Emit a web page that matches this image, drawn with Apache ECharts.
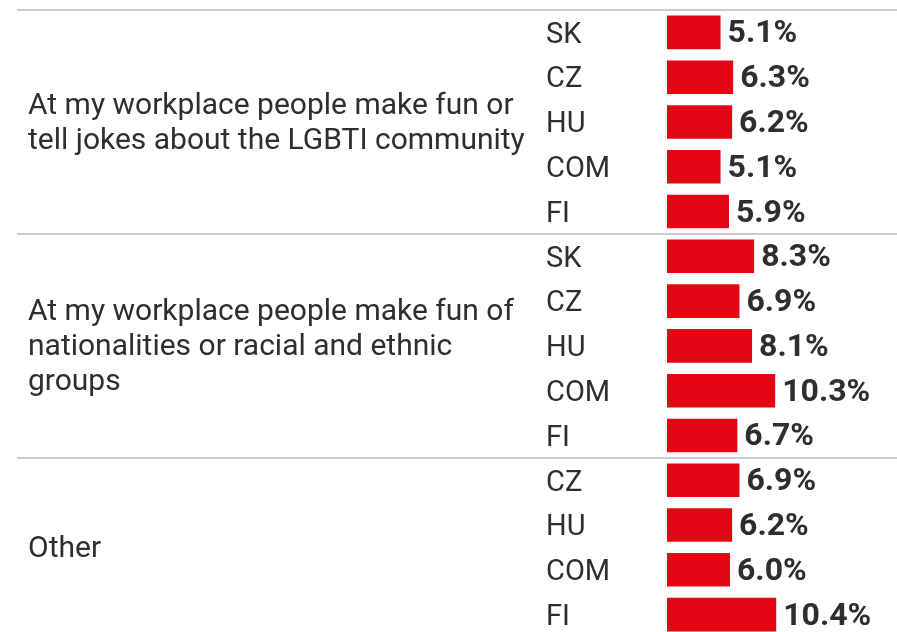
<!DOCTYPE html>
<html>
<head>
<meta charset="utf-8">
<script src="https://cdn.jsdelivr.net/npm/echarts@6/dist/echarts.min.js"></script>
<style>html,body{margin:0;padding:0;background:#fff;overflow:hidden}#c{width:897px;height:637px}</style>
</head>
<body>
<div id="c"></div>
<script>
const groups = [
  'At my workplace people make fun or\ntell jokes about the LGBTI community',
  'At my workplace people make fun of\nnationalities or racial and ethnic\ngroups',
  'Other'
];
const countries = [
  ['SK', 'CZ', 'HU', 'COM', 'FI'],
  ['SK', 'CZ', 'HU', 'COM', 'FI'],
  ['CZ', 'HU', 'COM', 'FI']
];
const values = [
  [5.1, 6.3, 6.2, 5.1, 5.9],
  [8.3, 6.9, 8.1, 10.3, 6.7],
  [6.9, 6.2, 6.0, 10.4]
];

const cats = [];
const vals = [];
countries.forEach((g, gi) => g.forEach((c, ci) => { cats.push(gi + '|' + c); vals.push(values[gi][ci]); }));
const nRows = cats.length;
const groupData = [];
let start = 0;
countries.forEach((g, gi) => { groupData.push({ value: [0, start + g.length / 2], name: groups[gi] }); start += g.length; });

const FONT = 'Roboto, "Noto Sans", sans-serif';
const TEXT = '#2e2e2e';
const chart = echarts.init(document.getElementById('c'), null, { renderer: 'canvas' });
chart.setOption({
  animation: false,
  backgroundColor: '#fff',
  grid: [
    { left: 667, right: 0, top: 10, bottom: 0, containLabel: false },
    { left: 17, right: 0, top: 10, bottom: 0, containLabel: false }
  ],
  xAxis: [
    { gridIndex: 0, type: 'value', min: 0, max: 21.9, show: false },
    { gridIndex: 1, type: 'value', min: 0, max: 1, show: false }
  ],
  yAxis: [
    {
      gridIndex: 0, type: 'category', data: cats, inverse: true,
      axisLine: { show: false }, axisTick: { show: false }, splitLine: { show: false },
      axisLabel: {
        margin: 121, align: 'left', fontSize: 29, color: TEXT, fontFamily: FONT,
        formatter: v => '{c|' + v.split('|')[1] + '}',
        rich: { c: { fontSize: 29, color: TEXT, fontFamily: FONT, padding: [6, 0, 0, 0] } }
      }
    },
    {
      gridIndex: 1, type: 'value', inverse: true, min: 0, max: nRows, interval: 5,
      axisLine: { show: false }, axisTick: { show: false }, axisLabel: { show: false },
      splitLine: { show: true, lineStyle: { color: '#cccccc', width: 2 } }
    }
  ],
  series: [
    {
      type: 'bar', xAxisIndex: 0, yAxisIndex: 0, data: vals,
      barCategoryGap: '25%',
      itemStyle: { color: '#e30613' },
      label: {
        show: true, position: 'right', distance: 7, offset: [0, 2],
        fontSize: 32, fontWeight: 'bold', color: TEXT, fontFamily: FONT,
        formatter: p => p.value.toFixed(1) + '%'
      }
    },
    {
      type: 'scatter', xAxisIndex: 1, yAxisIndex: 1, data: groupData,
      symbolSize: 0, silent: true,
      itemStyle: { opacity: 1 },
      label: {
        show: true, position: 'right', distance: 11, offset: [0, 2],
        fontSize: 30, lineHeight: 35, color: TEXT, fontFamily: FONT, align: 'left',
        opacity: 1,
        formatter: p => p.name
      }
    }
  ]
});
</script>
</body>
</html>
